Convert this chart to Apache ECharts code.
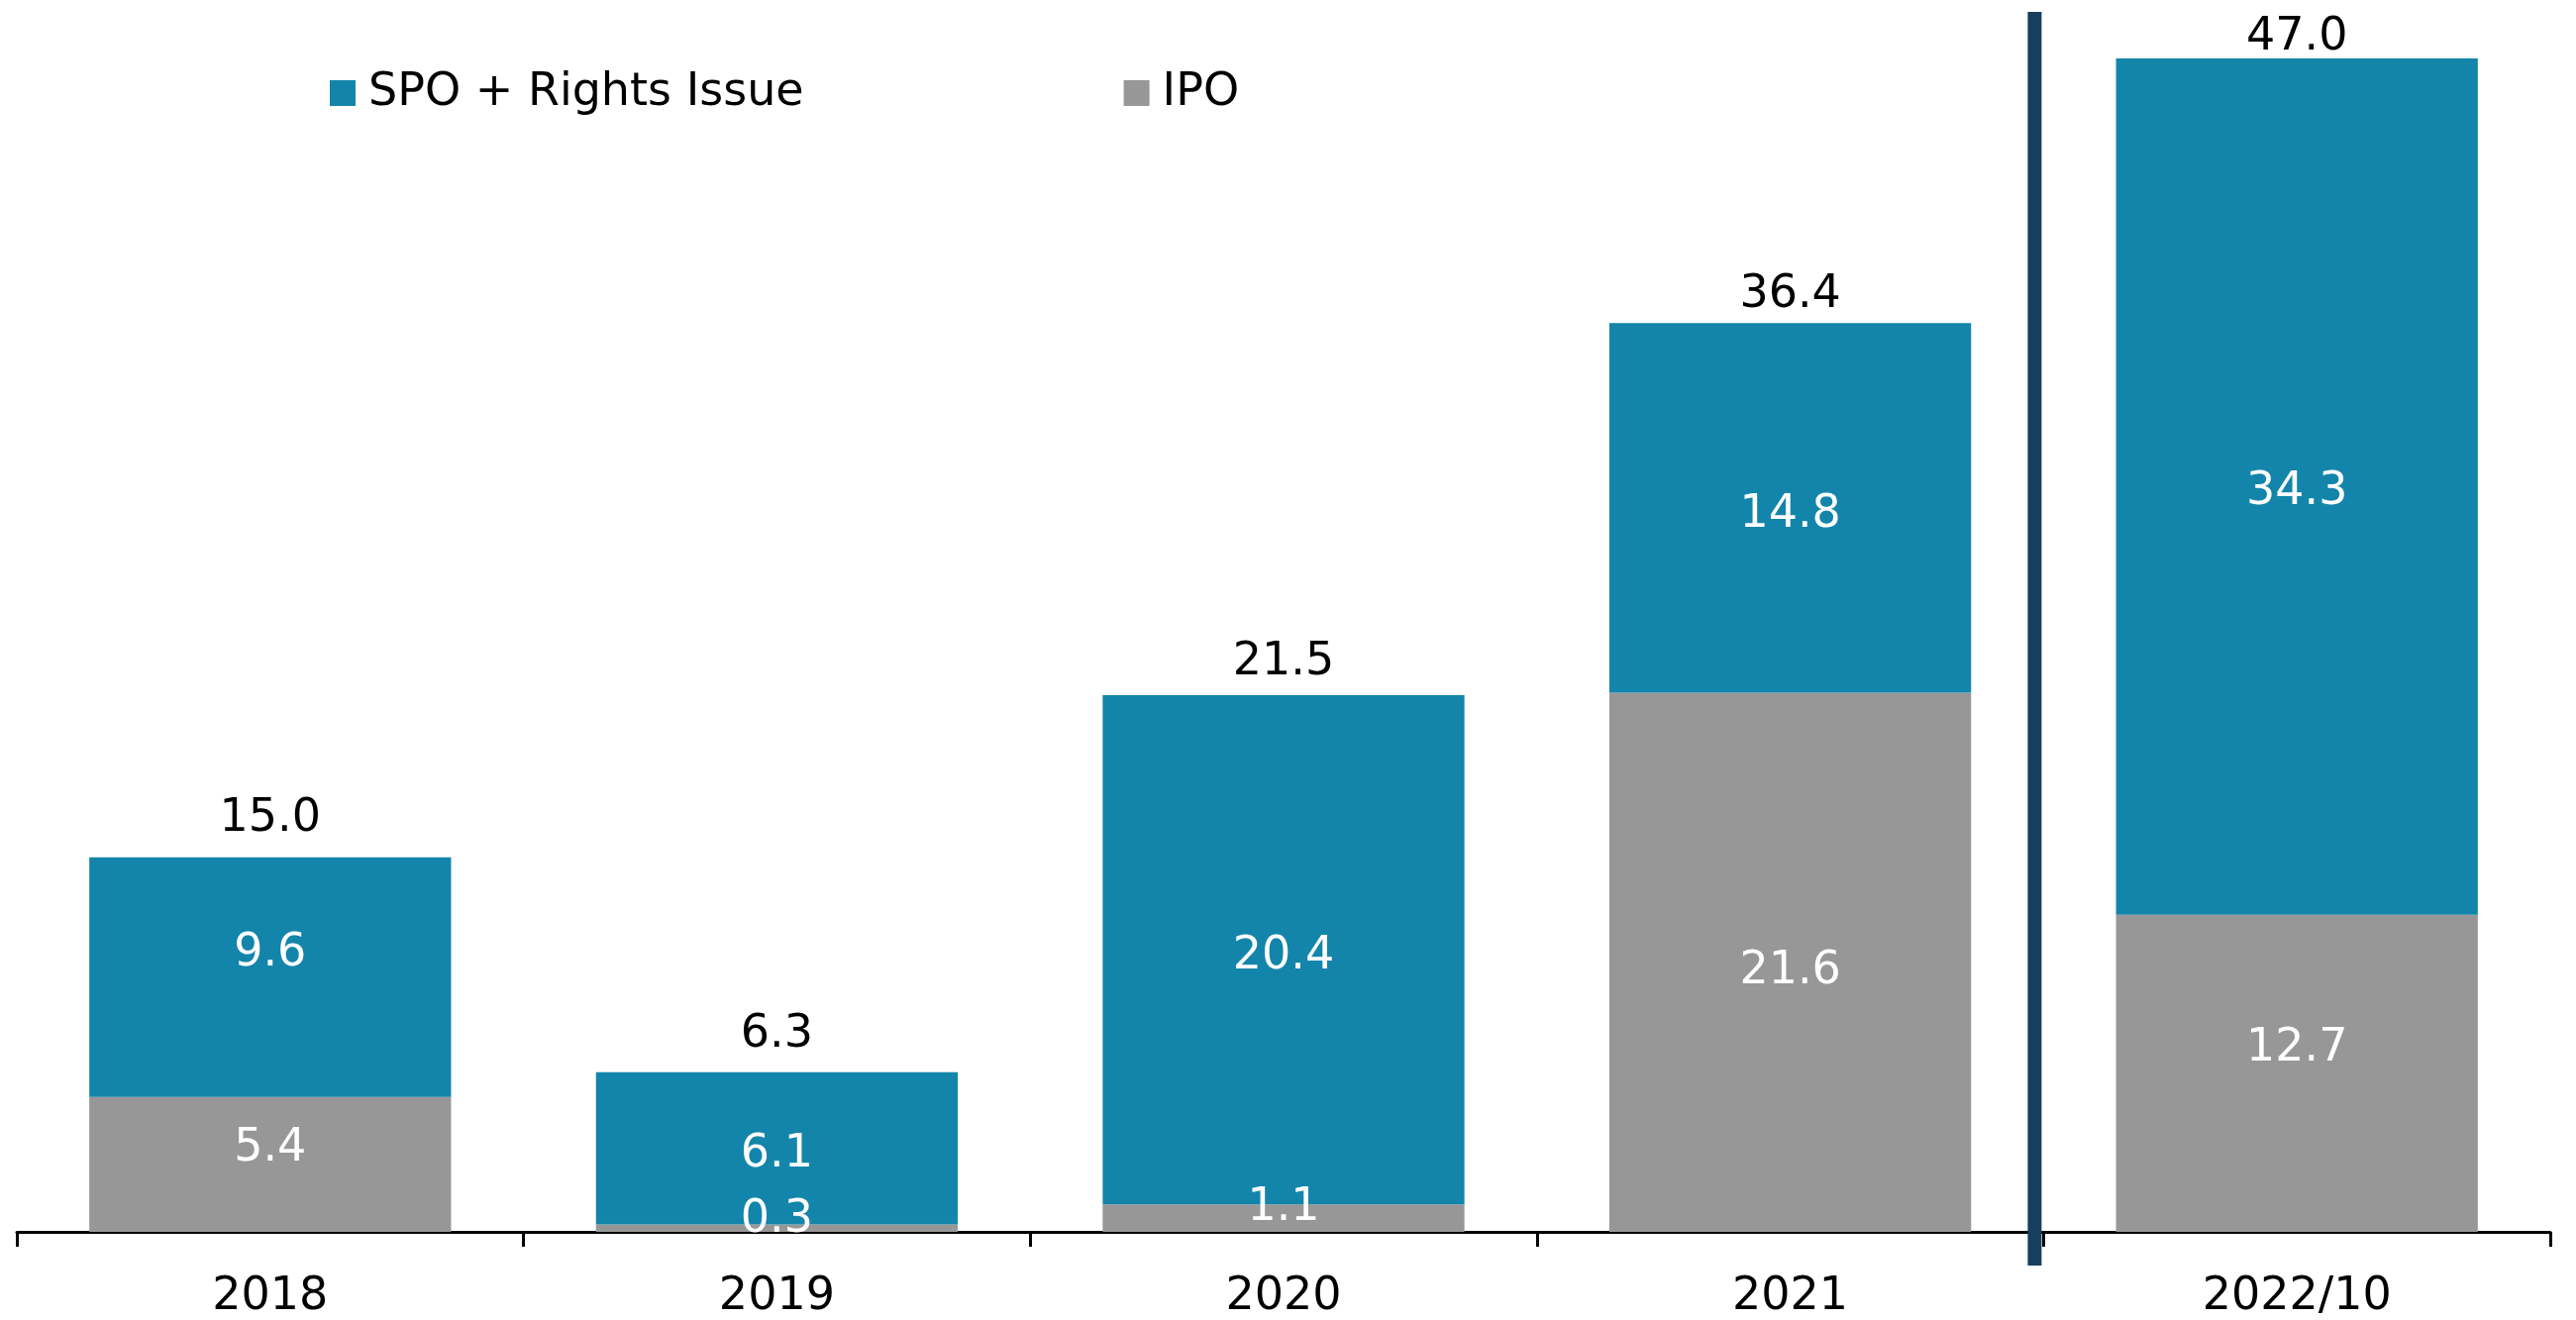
<!DOCTYPE html>
<html>
<head>
<meta charset="utf-8">
<script src="https://cdn.jsdelivr.net/npm/echarts@6/dist/echarts.min.js"></script>
<style>
html,body{margin:0;padding:0;background:#fff;}
#chart{width:2601px;height:1333px;}
</style>
</head>
<body>
<div id="chart"></div>
<script>
const categories = ['2018', '2019', '2020', '2021', '2022/10'];
const ipo = [5.4, 0.3, 1.1, 21.6, 12.7];
const spo = [9.6, 6.1, 20.4, 14.8, 34.3];
const totals = [15.0, 6.3, 21.5, 36.4, 47.0];

// label vertical offsets (style only)
const ipoLabelOffset = [-16, -8, -10, 9, -25];
const spoLabelOffset = [-24, 7, 7, 7, 6];
const totalLabelOffset = [2, 3, 8, 13, 20];

const FONT = 'DejaVu Sans';
const TEAL = '#1485aa';
const GRAY = '#979797';

const chart = echarts.init(document.getElementById('chart'));

const option = {
  animation: false,
  textStyle: { fontFamily: FONT },
  legend: {
    left: 333,
    top: 71,
    padding: 0,
    itemWidth: 26,
    itemHeight: 26,
    itemGap: 323,
    icon: 'rect',
    textStyle: { fontFamily: FONT, fontSize: 46, color: '#000', padding: [0, 0, 0, 8] },
    data: ['SPO + Rights Issue', 'IPO']
  },
  grid: { left: 17, right: 26, top: 59, bottom: 89, containLabel: false },
  xAxis: {
    type: 'category',
    data: categories,
    axisLine: { lineStyle: { color: '#000', width: 3 } },
    axisTick: { show: true, length: 15, lineStyle: { color: '#000', width: 3 } },
    axisLabel: { fontFamily: FONT, fontSize: 46, color: '#000', margin: 43 }
  },
  yAxis: {
    type: 'value',
    min: 0,
    max: 47,
    show: false,
    splitLine: { show: false }
  },
  series: [
    {
      name: 'IPO',
      type: 'bar',
      stack: 'total',
      barWidth: '71.4%',
      itemStyle: { color: GRAY },
      data: ipo.map((v, i) => ({
        value: v,
        label: { offset: [0, ipoLabelOffset[i]] }
      })),
      label: {
        show: true,
        position: 'inside',
        color: '#fff',
        fontFamily: FONT,
        fontSize: 46,
        formatter: p => p.value.toFixed(1)
      }
    },
    {
      name: 'SPO + Rights Issue',
      type: 'bar',
      stack: 'total',
      barWidth: '71.4%',
      itemStyle: { color: TEAL },
      data: spo.map((v, i) => ({
        value: v,
        label: { offset: [0, spoLabelOffset[i]] }
      })),
      label: {
        show: true,
        position: 'inside',
        color: '#fff',
        fontFamily: FONT,
        fontSize: 46,
        formatter: p => p.value.toFixed(1)
      }
    },
    {
      name: 'Total',
      type: 'bar',
      stack: 'total',
      barWidth: '71.4%',
      itemStyle: { color: 'transparent' },
      silent: true,
      data: totals.map((t, i) => ({
        value: 0,
        label: { offset: [0, totalLabelOffset[i]] }
      })),
      label: {
        show: true,
        position: 'top',
        distance: 18,
        color: '#000',
        fontFamily: FONT,
        fontSize: 46,
        formatter: p => totals[p.dataIndex].toFixed(1)
      }
    }
  ]
};

chart.setOption(option);

// divider between the last two categories
const p3 = chart.convertToPixel({ xAxisIndex: 0 }, categories[3]);
const p4 = chart.convertToPixel({ xAxisIndex: 0 }, categories[4]);
const boundary = (p3 + p4) / 2;
chart.setOption({
  graphic: [{
    type: 'rect',
    shape: { x: boundary - 16, y: 12, width: 14, height: 1266 },
    style: { fill: '#163f5e' },
    z: 10
  }]
});
</script>
</body>
</html>
